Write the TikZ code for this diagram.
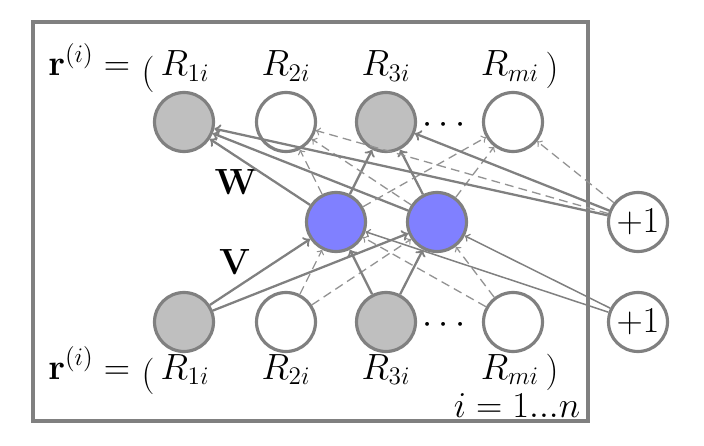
\documentclass[tikz,border=0pt]{standalone}
\usepackage{amsmath,amssymb}
\usepackage{xcolor}
\usepackage{tikz}
\usetikzlibrary{arrows,positioning}

\definecolor{unitgray}{RGB}{128,128,128}
\definecolor{obsfill}{RGB}{191,191,191}
\definecolor{hidfill}{RGB}{128,128,255}

\begin{document}
\begin{tikzpicture}[>=to, x=0.02cm, y=-0.02cm, font=\fontsize{19.5}{23}\selectfont,
    unit/.style={circle, draw=unitgray, line width=1.8pt, minimum size=1.18cm, inner sep=0pt},
    obsunit/.style={unit, fill=obsfill},
    missunit/.style={unit, fill=white},
    hidunit/.style={unit, fill=hidfill},
    lbl/.style={anchor=base, inner sep=0pt},
    obsedge/.style={->, draw=unitgray, line width=1.3pt},
    missedge/.style={->, draw=unitgray!85, line width=0.75pt, dash pattern=on 5pt off 3pt},
    biasedge/.style={->, draw=unitgray, line width=0.85pt}]
    \useasboundingbox (0,0) rectangle (704,446);
    \draw[unitgray, line width=1.8pt] (33,22) rectangle (588,421);

    % output layer
    \node[obsunit] (o1) at (184,122) {};
    \node[missunit] (o2) at (286,122) {};
    \node[obsunit] (o3) at (386,122) {};
    \node[missunit] (om) at (513,122) {};
    \node (odots) at (447,125) {$\cdots$};
    \node[anchor=base west, inner sep=0pt] (rtop) at (48,76) {$\mathbf{r}^{(i)} =$};
    \node[inner sep=0pt] (otop) at (148,74) {$($};
    \node[lbl] (r1top) at (185,76) {$R_{1i}$};
    \node[lbl] (r2top) at (286,76) {$R_{2i}$};
    \node[lbl] (r3top) at (386,76) {$R_{3i}$};
    \node[lbl] (rmtop) at (510,76) {$R_{mi}$};
    \node[inner sep=0pt] (ctop) at (552,70) {$)$};

    % hidden layer
    \node[hidunit] (h1) at (336,222) {};
    \node[hidunit] (h2) at (437,222) {};
    \node (wlab) at (236,182) {$\mathbf{W}$};
    \node (vlab) at (235,262) {$\mathbf{V}$};

    % input layer
    \node[obsunit] (i1) at (184,322) {};
    \node[missunit] (i2) at (286,322) {};
    \node[obsunit] (i3) at (386,322) {};
    \node[missunit] (im) at (513,322) {};
    \node (idots) at (447,325) {$\cdots$};
    \node[anchor=base west, inner sep=0pt] (rbot) at (48,379) {$\mathbf{r}^{(i)} =$};
    \node[inner sep=0pt] (obot) at (148,376) {$($};
    \node[lbl] (r1bot) at (185,379) {$R_{1i}$};
    \node[lbl] (r2bot) at (286,379) {$R_{2i}$};
    \node[lbl] (r3bot) at (386,379) {$R_{3i}$};
    \node[lbl] (rmbot) at (510,379) {$R_{mi}$};
    \node[inner sep=0pt] (cbot) at (552,372) {$)$};
    \node[lbl] (ilab) at (517,418) {$i = 1...n$};

    % bias units
    \node[missunit] (b1) at (638,222) {$+1$};
    \node[missunit] (b2) at (638,322) {$+1$};

    % V: input -> hidden
    \draw[obsedge] (i1) edge (h1) edge (h2);
    \draw[missedge] (i2) edge (h1) edge (h2);
    \draw[obsedge] (i3) edge (h1) edge (h2);
    \draw[missedge] (im) edge (h1) edge (h2);
    \draw[biasedge] (b2) edge (h1) edge (h2);

    % W: hidden -> output
    \draw[obsedge] (h1) edge (o1) edge (o3) (h2) edge (o1) edge (o3);
    \draw[missedge] (h1) edge (o2) edge (om) (h2) edge (o2) edge (om);
    \draw[obsedge] (b1) edge (o1) edge (o3);
    \draw[missedge] (b1) edge (o2) edge (om);
\end{tikzpicture}
\end{document}
